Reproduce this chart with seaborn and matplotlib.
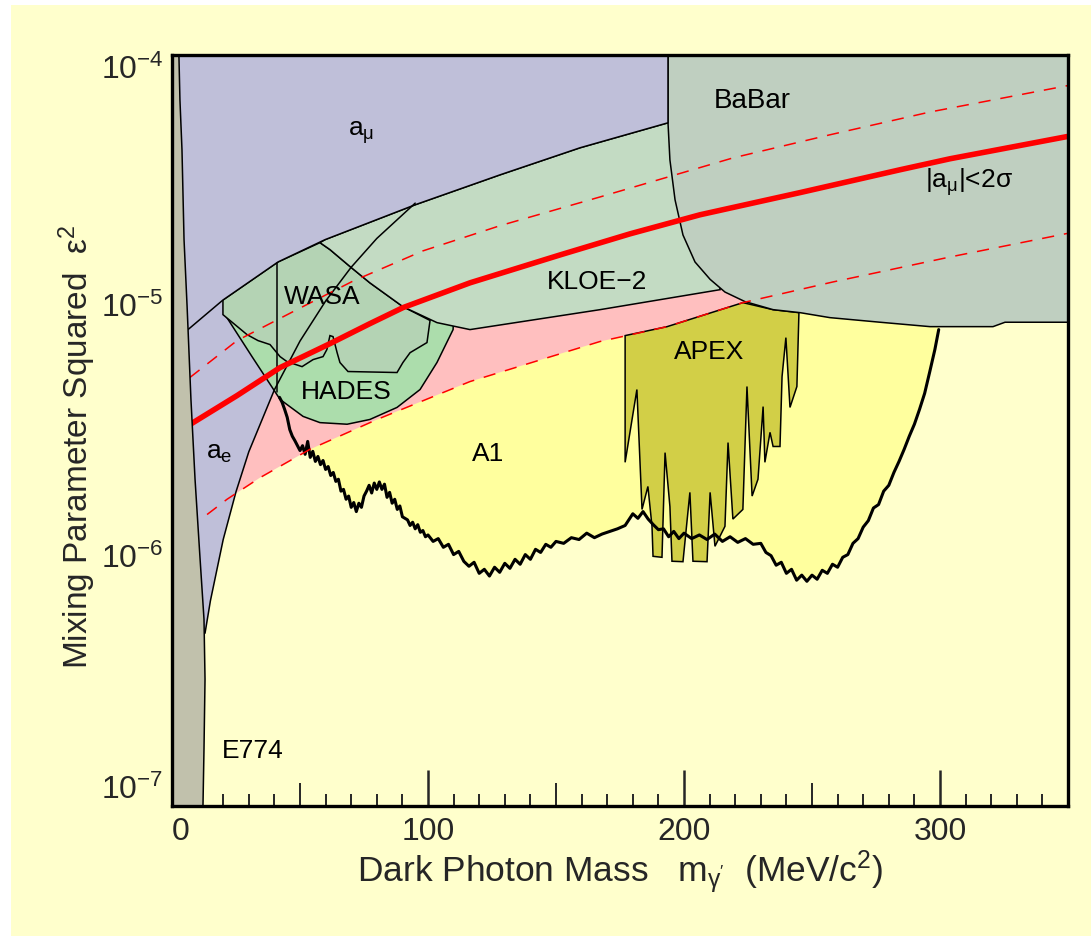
import numpy as np
import matplotlib
matplotlib.use("Agg")
import matplotlib.pyplot as plt
from matplotlib.patches import Rectangle
from matplotlib.ticker import MultipleLocator, FixedLocator, NullFormatter, FuncFormatter
import seaborn as sns

# Mixing parameter values are listed in units of 1e-6
U = 1e-6

# --- exclusion regions: boundaries as (mass [MeV], eps^2 / 1e-6) ---
e774_mass = [0, 12.1, 12.5, 12.9, 12.5, 10.9, 9.0, 7.4, 5.9, 4.7, 3.9, 3.1, 2.7, 0]
e774_eps2 = [0.10, 0.10, 0.169, 0.321, 0.557, 0.994, 2.02, 4.21, 9.88, 18.3, 41.8, 66.2, 100, 100]

amu_mass = [0, 6.25, 19.9, 41.4, 59.8, 94.9, 128.1, 159.4, 193.75, 193.75, 0]
amu_eps2 = [7.8, 8.0, 10.5, 14.9, 18.3, 25.2, 33.2, 42.6, 53.6, 100, 100]

ae_mass = [12.9, 15, 20, 25, 30, 40, 50, 60, 70, 80, 95]
ae_eps2 = [0.49, 0.66, 1.16, 1.80, 2.60, 4.6, 7.2, 10.4, 14.2, 18.5, 25.6]

babar_mass = [193.75, 193.75, 194.5, 196.5, 199.6, 204.3, 210.2, 216.0, 223.8, 234.8,
              245.3, 257.0, 276.6, 296.1, 320.7, 325.4, 350, 350]
babar_eps2 = [100, 53.6, 38.1, 26.4, 19.1, 14.9, 12.7, 11.3, 10.35, 9.61,
              9.35, 8.93, 8.56, 8.22, 8.22, 8.56, 8.56, 100]

kloe_mass = [57.8, 59.8, 94.9, 128.1, 159.4, 193.75, 205, 214.1, 167.2, 116.4,
             103.5, 90.2, 77.3, 69.5, 61.7]
kloe_eps2 = [17.8, 18.3, 25.2, 33.2, 42.6, 53.6, 53.6, 11.55, 9.61, 8.0,
             8.53, 9.88, 12.3, 14.3, 16.7]

wasa_mass = [19.9, 41.4, 57.8, 61.7, 69.5, 77.3, 90.2, 100.8, 99.6, 93.0, 90.2, 87.9,
             68.75, 65.6, 64.5, 62.9, 61.7, 60.5, 59.0, 55.1, 50.8, 44.9, 42.2, 38.3,
             33.6, 29.3, 19.9]
wasa_eps2 = [10.5, 14.9, 17.8, 16.7, 14.3, 12.3, 9.88, 8.7, 7.10, 6.47, 5.91, 5.39,
             5.44, 5.91, 6.47, 7.50, 7.57, 6.66, 6.24, 6.07, 5.69, 5.96, 6.24, 6.97,
             7.23, 7.64, 9.18]
wasa_edge_mass = [41.0, 41.0]
wasa_edge_eps2 = [14.8, 4.5]

hades_mass = [20.7, 31.25, 42.2, 51.2, 57.8, 68.4, 77.3, 87.9, 96.9, 103.5, 109.8,
              110, 95, 60, 25]
hades_eps2 = [9.18, 6.24, 4.21, 3.60, 3.40, 3.35, 3.50, 3.91, 4.61, 5.91, 8.0,
              9.0, 12, 14, 10.5]

apex_mass = [177.0, 193.4, 223.0, 234.8, 244.9, 244.1, 241.4, 239.8, 238.3, 237.5,
             234.8, 233.6, 231.6, 230.9, 228.9, 226.6, 224.6, 223.0, 219.1, 217.2,
             216.0, 212.1, 210.2, 209.0, 203.5, 202.3, 199.6, 195.3, 194.5, 192.6,
             191.4, 187.9, 187.5, 185.9, 183.6, 181.6, 177.0]
apex_eps2 = [7.57, 8.22, 10.25, 9.61, 9.35, 4.74, 3.91, 7.43, 5.19, 2.73,
             2.73, 3.11, 2.36, 3.94, 2.02, 1.73, 4.74, 1.53, 1.40, 2.83,
             1.31, 1.09, 1.79, 0.946, 0.950, 1.79, 0.946, 0.950, 1.57, 2.58,
             0.985, 0.994, 1.31, 1.89, 1.53, 4.61, 2.36]

a1_mass = [42, 43, 44, 45, 46, 47, 48, 49, 50, 51, 52, 53, 54, 55, 56, 57, 58, 59, 60,
           61, 62, 63, 64, 65, 66, 67, 68, 69, 70, 71, 72, 73, 74, 75, 76, 77, 78, 79, 80,
           81, 82, 83, 84, 85, 86, 87, 88, 89, 90, 92, 93, 94, 95, 96, 97, 98, 99, 100,
           102, 104, 106, 108, 110, 112, 114, 116, 118, 120, 122, 124, 126, 128, 130,
           132, 134, 136, 138, 140, 142, 144, 146, 148, 150, 153, 156, 159, 162, 165,
           168, 171, 174, 177, 180, 182, 184, 186, 188, 190, 192, 194, 196, 198, 200,
           203, 206, 209, 212, 215, 218, 221, 224, 227, 230, 232, 234, 236, 238, 240,
           242, 244, 246, 248, 250, 252, 254, 256, 258, 260, 262, 264, 266, 268, 270,
           272, 274, 276, 278, 280, 282, 284, 286, 288, 290, 292, 294, 296, 298, 299.5]
a1_eps2 = [4.29, 4.10, 3.84, 3.57, 3.19, 3.00, 2.88, 2.75, 2.63, 2.75, 2.54, 2.86, 2.47,
           2.61, 2.38, 2.49, 2.31, 2.40, 2.21, 2.27, 2.09, 2.15, 1.98, 2.02, 1.81, 1.84,
           1.68, 1.73, 1.56, 1.63, 1.50, 1.62, 1.56, 1.73, 1.81, 1.91, 1.78, 1.95, 1.84,
           1.97, 1.84, 1.93, 1.71, 1.79, 1.62, 1.68, 1.53, 1.58, 1.43, 1.39, 1.32, 1.36,
           1.28, 1.33, 1.24, 1.26, 1.19, 1.21, 1.14, 1.17, 1.08, 1.11, 1.01, 1.04, 0.949,
           0.907, 0.941, 0.850, 0.882, 0.829, 0.899, 0.858, 0.932, 0.890, 0.967, 0.924,
           1.01, 0.967, 1.06, 1.03, 1.11, 1.08, 1.14, 1.12, 1.18, 1.16, 1.23, 1.18, 1.22,
           1.25, 1.28, 1.32, 1.47, 1.41, 1.50, 1.40, 1.33, 1.27, 1.28, 1.19, 1.25, 1.17,
           1.23, 1.17, 1.21, 1.16, 1.22, 1.14, 1.19, 1.13, 1.17, 1.11, 1.12, 1.03, 1.00,
           0.916, 0.941, 0.850, 0.882, 0.798, 0.836, 0.790, 0.836, 0.805, 0.874, 0.850,
           0.924, 0.899, 0.985, 1.01, 1.12, 1.17, 1.30, 1.38, 1.55, 1.60, 1.81, 1.91,
           2.15, 2.38, 2.66, 3.00, 3.35, 3.84, 4.45, 5.43, 6.66, 8.00]

# --- muon g-2 favoured band ---
band_mid_mass = [7.0, 25.4, 42.2, 61.7, 77.3, 90.2, 116.4, 151.6, 178.9, 206.25, 245.3,
                 284.4, 303.9, 350]
band_mid_eps2 = [3.34, 4.36, 5.64, 7.03, 8.45, 9.79, 12.3, 15.9, 19.3, 23.0, 28.2,
                 34.8, 38.5, 47.3]
band_hi_mass = [7.0, 25.4, 48.8, 70.7, 98.0, 128.1, 167.2, 219.1, 257.0, 296.1, 350]
band_hi_eps2 = [5.15, 7.23, 9.61, 12.5, 16.5, 20.8, 27.1, 38.8, 48.0, 59.2, 75.5]
band_lo_mass = [13.7, 21.5, 34.4, 53.9, 80.1, 116.4, 167.2, 193.4, 223.0, 258.2, 303.9, 350]
band_lo_eps2 = [1.46, 1.68, 2.05, 2.66, 3.50, 4.96, 7.17, 8.22, 10.25, 12.4, 15.6, 19.4]

# --- region labels: (text, mass, eps^2 / 1e-6, fontsize) ---
region_labels = [
    (r"a$_{\mathregular{μ}}$", 74, 48.9, 19),
    ("BaBar", 226.6, 65.5, 20),
    (r"|a$_{\mathregular{μ}}$|<2σ", 311.5, 31.1, 19),
    ("KLOE−2", 166, 12.4, 19),
    ("WASA", 58.6, 10.8, 19),
    ("HADES", 68, 4.49, 19),
    ("APEX", 210, 6.54, 19),
    ("A1", 123.4, 2.54, 19),
    (r"a$_{\mathregular{e}}$", 18.5, 2.58, 19),
    ("E774", 31.6, 0.166, 19),
]

x_major = [0, 100, 200, 300]
y_major = [1e-7, 1e-6, 1e-5, 1e-4]

# --- styling ---
sns.set_style("ticks")
plt.rcParams["font.family"] = ["Liberation Sans", "DejaVu Sans"]
plt.rcParams["mathtext.fontset"] = "custom"
plt.rcParams["mathtext.rm"] = "Liberation Sans"
plt.rcParams["mathtext.it"] = "Liberation Sans:italic"
plt.rcParams["mathtext.bf"] = "Liberation Sans:bold"

BG = "#FFFFCC"
C_AMU = "#BFBFD9"
C_E774 = "#C1C1AC"
C_BABAR = "#BFCFC0"
C_KLOE = "#C3DBC3"
C_WASA = "#B4D3B4"
C_HADES = "#ACDDAC"
C_PINK = "#FFBFBF"
C_A1 = "#FFFF9E"
C_APEX = "#D2CF47"

fig = plt.figure(figsize=(10.91, 9.36), dpi=100)
fig.patch.set_facecolor("white")
fig.add_artist(Rectangle((11 / 1091, 0), 1 - 11 / 1091, 1 - 5 / 936,
                         transform=fig.transFigure, facecolor=BG,
                         edgecolor="none", zorder=-10))
ax = fig.add_axes([172 / 1091, 1 - 806 / 936, (1068 - 172) / 1091, (806 - 55) / 936])
ax.set_facecolor(BG)
ax.set_yscale("log")
ax.set_xlim(0, 350)
ax.set_ylim(1e-7, 1e-4)


def scaled(vals):
    return np.asarray(vals) * U


EDGE = dict(edgecolor="black", linewidth=1.1)

# A1 exclusion (filled above its limit)
ax.fill_between(a1_mass, scaled(a1_eps2), 1e-4, facecolor=C_A1, edgecolor="none", zorder=1.0)
# g-2 favoured band
ax.fill(np.r_[band_hi_mass, band_lo_mass[::-1]],
        np.r_[scaled(band_hi_eps2), scaled(band_lo_eps2)[::-1]],
        facecolor=C_PINK, edgecolor="none", zorder=1.1)
# electron g-2
ax.fill(np.r_[ae_mass, 95, 0, 0], np.r_[scaled(ae_eps2), 1e-4, 1e-4, 0.4 * U],
        facecolor=C_AMU, edgecolor="none", zorder=1.2)
ax.fill(hades_mass, scaled(hades_eps2), facecolor=C_HADES, zorder=1.3, **EDGE)
ax.fill(wasa_mass, scaled(wasa_eps2), facecolor=C_WASA, zorder=1.4, **EDGE)
ax.fill(kloe_mass, scaled(kloe_eps2), facecolor=C_KLOE, zorder=1.5, **EDGE)
ax.fill(apex_mass, scaled(apex_eps2), facecolor=C_APEX, zorder=1.6, **EDGE)
ax.fill(babar_mass, scaled(babar_eps2), facecolor=C_BABAR, zorder=1.7, **EDGE)
ax.fill(amu_mass, scaled(amu_eps2), facecolor=C_AMU, zorder=1.8, **EDGE)

# boundary lines drawn over the fills
sns.lineplot(x=ae_mass, y=scaled(ae_eps2), ax=ax, color="black", linewidth=1.1,
             sort=False, estimator=None, zorder=1.85)
sns.lineplot(x=wasa_edge_mass, y=scaled(wasa_edge_eps2), ax=ax, color="black",
             linewidth=1.1, sort=False, estimator=None, zorder=1.85)
sns.lineplot(x=a1_mass, y=scaled(a1_eps2), ax=ax, color="black", linewidth=2.2,
             sort=False, estimator=None, zorder=1.86)

# g-2 band lines
sns.lineplot(x=band_mid_mass, y=scaled(band_mid_eps2), ax=ax, color="#FF0000",
             linewidth=4.0, sort=False, estimator=None, zorder=1.9)
for bm, be in [(band_hi_mass, band_hi_eps2), (band_lo_mass, band_lo_eps2)]:
    sns.lineplot(x=bm, y=scaled(be), ax=ax, color="#FF0000", linewidth=1.1,
                 dashes=False, sort=False, estimator=None, zorder=1.9,
                 linestyle=(0, (8, 6.5)))

# E774 beam dump
ax.fill(e774_mass, scaled(e774_eps2), facecolor=C_E774, zorder=1.95, **EDGE)

for txt, m, e, fs in region_labels:
    ax.text(m, e * U, txt, fontsize=fs, ha="center", va="center", color="black", zorder=3)

# axes, ticks
for sp in ax.spines.values():
    sp.set_linewidth(2.4)
    sp.set_color("black")
    sp.set_zorder(4)

ax.xaxis.set_major_locator(FixedLocator(x_major))
ax.xaxis.set_minor_locator(MultipleLocator(10))
ax.xaxis.set_major_formatter(FuncFormatter(lambda v, p: f"{v:.0f}"))
ax.yaxis.set_major_locator(FixedLocator(y_major))
ax.yaxis.set_minor_locator(FixedLocator([k * 10.0 ** d for d in range(-7, -4) for k in range(2, 10)]))
ax.yaxis.set_minor_formatter(NullFormatter())
ax.yaxis.set_major_formatter(FuncFormatter(lambda v, p: r"$\mathregular{10^{%d}}$" % round(np.log10(v))))

ax.tick_params(axis="x", which="major", direction="in", length=26, width=1.8,
               labelsize=23, pad=8, top=False)
ax.tick_params(axis="x", which="minor", direction="in", length=8.6, width=1.4, top=False)
ax.tick_params(axis="y", which="major", direction="in", length=16.5, width=1.8,
               labelsize=23, pad=6, right=False)
ax.tick_params(axis="y", which="minor", direction="in", length=8, width=1.4, right=False)

minor_locs = ax.xaxis.get_minorticklocs()
for t, loc in zip(ax.xaxis.get_minor_ticks(len(minor_locs)), minor_locs):
    if abs(loc % 50) < 1e-6:
        t.tick1line.set_markersize(16.5)

xt = ax.xaxis.get_major_ticks(len(x_major))
xt[0].label1.set_horizontalalignment("left")
yt = ax.yaxis.get_major_ticks(len(y_major))
yt[0].label1.set_verticalalignment("bottom")
yt[-1].label1.set_verticalalignment("top")

ax.set_xlabel(r"Dark Photon Mass   m$_{\mathregular{γ'}}$  (MeV/c$^{\mathregular{2}}$)",
              fontsize=25.5, va="center")
ax.xaxis.set_label_coords(0.5, -0.088)
ax.set_ylabel(r"Mixing Parameter Squared  $\mathregular{ε^2}$", fontsize=24, va="center")
ax.yaxis.set_label_coords(-0.106, 0.479)

fig.savefig("out.png", dpi=100)
